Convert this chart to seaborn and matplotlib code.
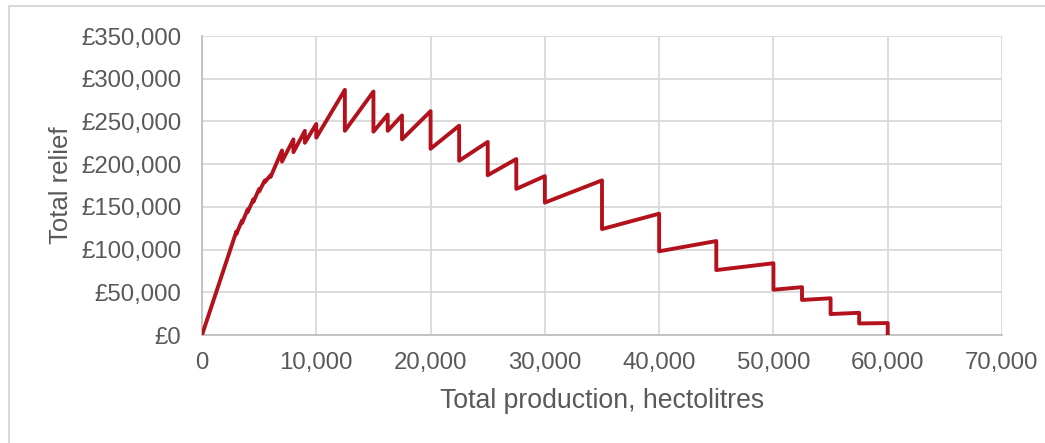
import matplotlib
matplotlib.use("Agg")
import matplotlib.pyplot as plt
from matplotlib.patches import Rectangle
from matplotlib.ticker import FuncFormatter
import pandas as pd
import seaborn as sns

# Production thresholds (hectolitres) where the relief rate steps down
thresholds = [3000, 3500, 4000, 4500, 5000, 5500, 6000, 7000, 8000, 9000,
              10000, 12500, 15000, 16250, 17500, 20000, 22500, 25000, 27500,
              30000, 35000, 40000, 45000, 50000, 52500, 55000, 57500, 60000]
# Total relief just below each threshold (GBP)
relief_below = [121000, 134000, 147000, 159000, 171000, 181000, 187000,
                216000, 229000, 239000, 247000, 287000, 285000, 258000,
                257000, 262000, 245000, 226000, 206000, 186000, 181000,
                142000, 110000, 84000, 56000, 43000, 26000, 14000]
# Total relief just above each threshold (GBP)
relief_above = [118000, 131000, 144000, 156000, 168000, 179000, 185000,
                203000, 214000, 225000, 231000, 239000, 238000, 239000,
                229000, 218000, 204000, 187000, 171000, 155000, 124000,
                98000, 76000, 53000, 41000, 24500, 13500, 0]

x_ticks = [0, 10000, 20000, 30000, 40000, 50000, 60000, 70000]
y_ticks = [0, 50000, 100000, 150000, 200000, 250000, 300000, 350000]

# Build the stepped relief curve: start at zero, then a vertical drop at each threshold
xs = [0]
ys = [0]
for t, b, a in zip(thresholds, relief_below, relief_above):
    xs += [t, t]
    ys += [b, a]
df = pd.DataFrame({"production": xs, "relief": ys})

sns.set_theme(style="white")
plt.rcParams["font.family"] = ["Liberation Sans", "DejaVu Sans"]

TEXT = "#595959"
GRID = "#D9D9D9"
LINE = "#B3121C"

fig = plt.figure(figsize=(10.45, 4.43), dpi=100)
ax = fig.add_axes([202 / 1045, 1 - 335 / 443, 800 / 1045, 299 / 443])

sns.lineplot(data=df, x="production", y="relief", estimator=None, sort=False,
             color=LINE, linewidth=2.8, ax=ax, zorder=3)

ax.set_xlim(x_ticks[0], x_ticks[-1])
ax.set_ylim(y_ticks[0], y_ticks[-1])
ax.set_xticks(x_ticks)
ax.set_yticks(y_ticks)
ax.xaxis.set_major_formatter(FuncFormatter(lambda v, p: f"{int(v):,}"))
ax.yaxis.set_major_formatter(FuncFormatter(lambda v, p: f"£{int(v):,}"))

ax.grid(True, color=GRID, linewidth=1.3, zorder=0)
for side in ["top", "right"]:
    ax.spines[side].set_visible(False)
for side in ["left", "bottom"]:
    ax.spines[side].set_color("#BFBFBF")
    ax.spines[side].set_linewidth(1.3)

ax.tick_params(axis="both", length=0, labelsize=17.3, labelcolor=TEXT)
ax.tick_params(axis="x", pad=12)
ax.tick_params(axis="y", pad=15)

ax.set_xlabel("Total production, hectolitres", fontsize=19.2, color=TEXT, labelpad=10)
ax.set_ylabel("Total relief", fontsize=18.5, color=TEXT, labelpad=6)

# Light chart-area frame
fig.patches.append(Rectangle((9 / 1045, -0.5), 1.5, 1 - 6 / 443 + 0.5,
                             transform=fig.transFigure, fill=False,
                             edgecolor=GRID, linewidth=1.5))

fig.savefig("out.png", dpi=100)
